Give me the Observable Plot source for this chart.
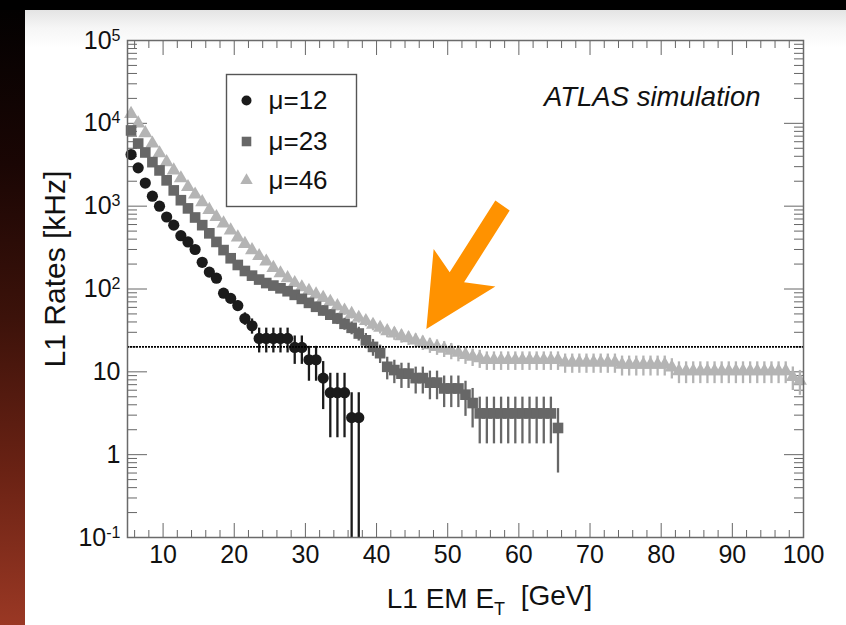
<!DOCTYPE html>
<html><head><meta charset="utf-8">
<script src="https://cdn.jsdelivr.net/npm/d3@7"></script>
<script src="https://cdn.jsdelivr.net/npm/@observablehq/plot@0.6"></script>
<style>
html,body{margin:0;padding:0;}
body{width:846px;height:625px;background:#000;position:relative;overflow:hidden;}
#strip{position:absolute;left:0;top:10px;width:25px;height:615px;background:linear-gradient(to bottom,#030101 0%,#1a0604 25%,#3c120a 50%,#6a2214 75%,#9a3824 100%);}
#panel{position:absolute;left:25px;top:10px;width:821px;height:615px;background:linear-gradient(to bottom,#e4e4e4 0px,#f6f6f6 18px,#fff 38px);}
#panel svg{display:block;}
</style></head><body>
<div id="strip"></div>
<div id="panel"></div>
<script>
// ---------- data ----------
const x12 = [5.5,6.5,7.5,8.5,9.5,10.5,11.5,12.5,13.5,14.5,15.5,16.5,17.5,18.5,19.5,20.5,21.5,22.5,23.5,24.5,25.5,26.5,27.5,28.5,29.5,30.5,31.5,32.5,33.5,34.5,35.5,36.5,37.5];
const rate12 = [4200,2900,1900,1320,1000,740,590,440,370,300,210,160,135,89,77,63,44,36,25.3,25.3,25.3,25.3,25.3,19.7,19.7,14,14,8.4,5.6,5.6,5.6,2.8,2.8];
const err12 = [60,50,40,33,28,24,21,18,17,15,13,11,10,9.5,9,8.5,7.5,7.5,8.4,8.4,8.4,8.4,8.4,7.4,7.4,6.3,6.3,4.9,4.0,4.0,4.0,2.8,2.8];

const x23 = [5.5,6.5,7.5,8.5,9.5,10.5,11.5,12.5,13.5,14.5,15.5,16.5,17.5,18.5,19.5,20.5,21.5,22.5,23.5,24.5,25.5,26.5,27.5,28.5,29.5,30.5,31.5,32.5,33.5,34.5,35.5,36.5,37.5,38.5,39.5,40.5,41.5,42.5,43.5,44.5,45.5,46.5,47.5,48.5,49.5,50.5,51.5,52.5,53.5,54.5,55.5,56.5,57.5,58.5,59.5,60.5,61.5,62.5,63.5,64.5,65.5];
const rate23 = [8200,5700,4450,3400,2700,2050,1550,1180,940,730,590,470,370,295,235,195,165,145,130,118,110,102,94,85,76,68,61,55,49,44,38,34,29,24,20,16.8,11.5,10.5,9.5,9.5,8.4,8.4,7.4,7.4,6.3,6.3,6.3,5.3,4.2,3.15,3.15,3.15,3.15,3.15,3.15,3.15,3.15,3.15,3.15,3.15,2.1];
const err23 = [93,77,68,60,53,46,40,35,31,28,25,22,20,18,16,14,13,12,12,11,11,10,10,9.5,9,8.5,8,7.6,7.2,6.8,6.3,6,5.5,5,4.6,4.2,3.5,3.3,3.2,3.2,3.0,3.0,2.8,2.8,2.6,2.6,2.6,2.4,2.1,1.8,1.8,1.8,1.8,1.8,1.8,1.8,1.8,1.8,1.8,1.8,1.5];

const x46 = [5.5,6.5,7.5,8.5,9.5,10.5,11.5,12.5,13.5,14.5,15.5,16.5,17.5,18.5,19.5,20.5,21.5,22.5,23.5,24.5,25.5,26.5,27.5,28.5,29.5,30.5,31.5,32.5,33.5,34.5,35.5,36.5,37.5,38.5,39.5,40.5,41.5,42.5,43.5,44.5,45.5,46.5,47.5,48.5,49.5,50.5,51.5,52.5,53.5,54.5,55.5,56.5,57.5,58.5,59.5,60.5,61.5,62.5,63.5,64.5,65.5,66.5,67.5,68.5,69.5,70.5,71.5,72.5,73.5,74.5,75.5,76.5,77.5,78.5,79.5,80.5,81.5,82.5,83.5,84.5,85.5,86.5,87.5,88.5,89.5,90.5,91.5,92.5,93.5,94.5,95.5,96.5,97.5,98.5,99.5];
const rate46 = [13000,10000,7600,5700,4350,3400,2700,2170,1700,1380,1120,900,740,620,510,420,350,295,250,215,180,155,135,118,105,95,86,78,70,62,55,50,45,41,37,34,31,29,27,25.5,24,22.5,21,20,19,18,17,16,15.2,14.6,13.9,13.9,13.9,13.9,13.9,13.9,13.9,13.9,13.9,13.9,13.9,13.0,13.0,13.0,13.0,13.0,13.0,13.0,13.0,12.2,12.2,12.2,12.2,12.2,12.2,12.2,11.3,10.2,10.2,10.2,10.2,10.2,10.2,10.2,10.2,10.2,10.2,10.2,10.2,10.2,10.2,10.2,10.2,8.7,7.8];
const err46 = [106,93,81,70,62,54,48,43,38,35,31,28,25,23,21,19,17.5,16,14.7,13.7,12.5,11.6,10.8,10.1,9.6,9.1,8.6,8.2,7.8,7.3,6.9,6.6,6.3,6,5.7,5.4,5.2,5,4.8,4.7,4.6,4.4,4.3,4.2,4.1,4,3.8,3.7,3.6,3.6,3.5,3.5,3.5,3.5,3.5,3.5,3.5,3.5,3.5,3.5,3.5,3.4,3.4,3.4,3.4,3.4,3.4,3.4,3.4,3.3,3.3,3.3,3.3,3.3,3.3,3.3,3.1,3.0,3.0,3.0,3.0,3.0,3.0,3.0,3.0,3.0,3.0,3.0,3.0,3.0,3.0,3.0,3.0,2.75,2.6];

const seriesNames = ["μ=12", "μ=23", "μ=46"];
const threshold = 20;            // kHz, dotted line
const arrowTip = {x: 47, y: 33}; // where the orange arrow points
const xMajor = [10,20,30,40,50,60,70,80,90,100];
const yMajor = [0.1,1,10,100,1000,10000,100000];
const xTitle = "L1 EM E_T [GeV]";
const yTitle = "L1 Rates [kHz]";
const atlasLabel = "ATLAS simulation";

// ---------- derived ----------
const xMinor = d3.range(6, 100, 2).filter(d => d % 10 !== 0);
const yMinor = [];
for (const dec of [0.1,1,10,100,1000,10000]) for (let k = 2; k <= 9; k++) yMinor.push(+(dec*k).toPrecision(3));

const tbl = (xs, ys, es) => xs.map((x, i) => ({x, y: ys[i], lo: Math.max(ys[i] - es[i], 1e-3), hi: ys[i] + es[i]}));
const series = [
  {name: seriesNames[2], rows: tbl(x46, rate46, err46), symbol: "triangle", color: "#b4b4b4", r: 5.2, legendDy: 140},
  {name: seriesNames[1], rows: tbl(x23, rate23, err23), symbol: "square",   color: "#676767", r: 6.0, legendDy: 101},
  {name: seriesNames[0], rows: tbl(x12, rate12, err12), symbol: "circle",   color: "#1b1b1b", r: 5.6, legendDy: 60}
];

const FONT = "'Liberation Sans', Arial, Helvetica, sans-serif";
const tickCol = "#666";
const noText = () => "";
const yFmt = d => d === 1 ? "1" : d === 10 ? "10" : "10^" + Math.round(Math.log10(d));

// arrow outline, relative to its tip (pixels)
const arrowPts = [[0,0],[7.3,-80],[23.3,-56.6],[69,-128.3],[83.3,-118.3],[37.7,-46.6],[69,-42.3]];
const arrowSymbol = {draw(ctx) { ctx.moveTo(...arrowPts[0]); for (const p of arrowPts.slice(1)) ctx.lineTo(...p); ctx.closePath(); }};

const marks = [
  // ticks (inward), all four sides
  Plot.axisX(xMajor, {anchor: "bottom", tickSize: -14, tickFormat: noText, label: null, stroke: tickCol}),
  Plot.axisX(xMinor, {anchor: "bottom", tickSize: -7,  tickFormat: noText, label: null, stroke: tickCol}),
  Plot.axisX(xMajor, {anchor: "top",    tickSize: -14, tickFormat: noText, label: null, stroke: tickCol}),
  Plot.axisX(xMinor, {anchor: "top",    tickSize: -7,  tickFormat: noText, label: null, stroke: tickCol}),
  Plot.axisY(yMajor, {anchor: "left",   tickSize: -20, tickFormat: noText, label: null, stroke: tickCol}),
  Plot.axisY(yMinor, {anchor: "left",   tickSize: -10, tickFormat: noText, label: null, stroke: tickCol}),
  Plot.axisY(yMajor, {anchor: "right",  tickSize: -20, tickFormat: noText, label: null, stroke: tickCol}),
  Plot.axisY(yMinor, {anchor: "right",  tickSize: -10, tickFormat: noText, label: null, stroke: tickCol}),
  // tick labels
  Plot.axisX(xMajor, {anchor: "bottom", tickSize: 0, tickPadding: 8, fontSize: 25, fill: "#111", label: null}),
  Plot.axisY(yMajor, {anchor: "left", tickSize: 0, tickPadding: 7, fontSize: 25, fill: "#111", tickFormat: yFmt, label: null}),
  // legend box
  Plot.frame({stroke: "#555", strokeWidth: 1.4, fill: "white", insetLeft: 99, insetTop: 34, insetRight: 447, insetBottom: 331}),
];
for (const s of series) {
  marks.push(Plot.ruleX(s.rows, {x: "x", y1: "lo", y2: "hi", stroke: s.color, strokeWidth: 2.3, clip: true}));
  marks.push(Plot.dot(s.rows, {x: "x", y: "y", symbol: s.symbol, r: s.r, fill: s.color, stroke: "none"}));
}
for (const s of series) {
  marks.push(Plot.dot([s], {frameAnchor: "top-left", dx: 119, dy: s.legendDy, symbol: s.symbol, r: s.r - 0.6, fill: s.color}));
  marks.push(Plot.text([s.name], {text: d => d, frameAnchor: "top-left", dx: 141, dy: s.legendDy, textAnchor: "start", lineAnchor: "middle", fontSize: 26, fill: "#111"}));
}
marks.push(
  Plot.ruleY([threshold], {stroke: "#000", strokeWidth: 1.8, strokeDasharray: "2 1"}),
  Plot.frame({stroke: "#6a6a6a", strokeWidth: 1.5}),
  Plot.text([atlasLabel], {text: d => d, frameAnchor: "top-right", dx: -43, dy: 57, textAnchor: "end", lineAnchor: "middle", fontSize: 27.5, fontStyle: "italic", fill: "#111"}),
  Plot.text([xTitle], {text: d => d, frameAnchor: "bottom", dx: 24, dy: 62, textAnchor: "middle", lineAnchor: "middle", fontSize: 28, fill: "#111"}),
  Plot.text([yTitle], {text: d => d, frameAnchor: "left", dx: -72.5, dy: -20, rotate: -90, textAnchor: "middle", lineAnchor: "middle", fontSize: 30, fill: "#111"}),
  Plot.dot([arrowTip], {x: "x", y: "y", symbol: arrowSymbol, r: 1, fill: "#ff9200", stroke: "none"})
);

const svg = Plot.plot({
  width: 821, height: 615,
  marginLeft: 102, marginRight: 43, marginTop: 30, marginBottom: 88,
  style: {background: "transparent", fontFamily: FONT, overflow: "visible"},
  x: {type: "linear", domain: [5, 100]},
  y: {type: "log", domain: [0.1, 100000]},
  marks
});

// rich text: superscripts / subscript
svg.querySelectorAll("text").forEach(t => {
  const s = t.textContent;
  const m = /^10\^(-?\d+)$/.exec(s);
  if (m) t.innerHTML = `10<tspan dy="-0.5em" font-size="16">${m[1]}</tspan>`;
  else if (s === xTitle) t.innerHTML = `L1 EM E<tspan dy="0.35em" font-size="18">T</tspan><tspan dy="-0.35em">\u00a0\u00a0[GeV]</tspan>`;
});
document.getElementById("panel").appendChild(svg);
</script></body></html>
